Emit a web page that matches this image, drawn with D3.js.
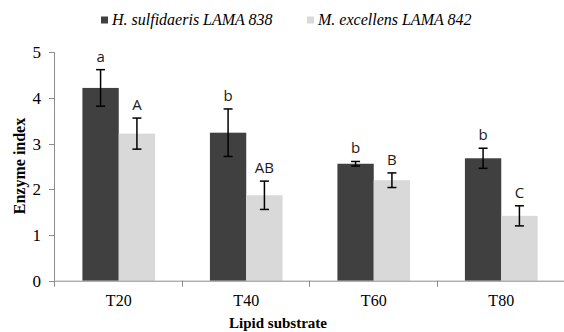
<!DOCTYPE html>
<html>
<head>
<meta charset="utf-8">
<script src="https://cdn.jsdelivr.net/npm/d3@7"></script>
<style>
  html, body { margin: 0; padding: 0; background: #fff; }
  svg { display: block; }
</style>
</head>
<body>
<svg id="chart" width="564" height="332"></svg>
<script>
const categories = ["T20", "T40", "T60", "T80"];
const seriesNames = ["H. sulfidaeris LAMA 838", "M. excellens LAMA 842"];
const hsValues = [4.22, 3.24, 2.56, 2.68];
const hsErrors = [0.40, 0.52, 0.05, 0.22];
const hsLetters = ["a", "b", "b", "b"];
const meValues = [3.22, 1.87, 2.20, 1.42];
const meErrors = [0.34, 0.31, 0.16, 0.22];
const meLetters = ["A", "AB", "B", "C"];
const yTicks = [0, 1, 2, 3, 4, 5];
const colors = ["#404040", "#d9d9d9"];

(function () {
const serif = "'Liberation Serif', 'Times New Roman', serif";
const svg = d3.select("#chart");
const mLeft = 55, mRight = 565, mTop = 52.3, mBottom = 280.7;

const x = d3.scaleBand().domain(categories).range([mLeft, mRight])
  .paddingInner(0.43).paddingOuter(0.215);
const xs = d3.scaleBand().domain(seriesNames).range([0, x.bandwidth()]);
const y = d3.scaleLinear().domain([0, 5]).range([mBottom, mTop]);

const series = [
  { name: seriesNames[0], values: hsValues, errors: hsErrors, letters: hsLetters, color: colors[0] },
  { name: seriesNames[1], values: meValues, errors: meErrors, letters: meLetters, color: colors[1] }
];

// bars
series.forEach(s => {
  const g = svg.append("g");
  g.selectAll("rect").data(categories).join("rect")
    .attr("x", c => x(c) + xs(s.name))
    .attr("width", xs.bandwidth())
    .attr("y", (c, i) => y(s.values[i]))
    .attr("height", (c, i) => y(0) - y(s.values[i]))
    .attr("fill", s.color);
});

// axes
const axisColor = "#8c8c8c";
svg.append("line").attr("x1", mLeft - 0.5).attr("x2", mLeft - 0.5)
  .attr("y1", y(5)).attr("y2", y(0)).attr("stroke", axisColor).attr("stroke-width", 1);
svg.append("line").attr("x1", mLeft - 0.5).attr("x2", mRight)
  .attr("y1", y(0) + 0.5).attr("y2", y(0) + 0.5).attr("stroke", axisColor).attr("stroke-width", 1);

// y ticks
const yg = svg.append("g");
yTicks.forEach(t => {
  yg.append("line").attr("x1", mLeft - 6).attr("x2", mLeft - 0.5)
    .attr("y1", Math.round(y(t)) + 0.5).attr("y2", Math.round(y(t)) + 0.5)
    .attr("stroke", axisColor);
  yg.append("text").attr("x", mLeft - 14).attr("y", y(t)).attr("dy", "0.35em")
    .attr("text-anchor", "end")
    .style("font-family", serif)
    .attr("font-size", 17).attr("fill", "#000").text(t);
});

// x boundary ticks
const boundaries = [mLeft].concat(categories.slice(1).map(c => x(c) - x.step() * x.paddingInner() / 2));
boundaries.forEach(b => {
  svg.append("line").attr("x1", Math.round(b) - 0.5).attr("x2", Math.round(b) - 0.5)
    .attr("y1", y(0)).attr("y2", y(0) + 6).attr("stroke", axisColor);
});

// x labels
svg.append("g").selectAll("text").data(categories).join("text")
  .attr("x", c => x(c) + x.bandwidth() / 2)
  .attr("y", 306)
  .attr("text-anchor", "middle")
  .style("font-family", serif)
  .attr("font-size", 16).attr("fill", "#000").text(c => c);

// error bars and letters
series.forEach(s => {
  const g = svg.append("g");
  categories.forEach((c, i) => {
    const cx = x(c) + xs(s.name) + xs.bandwidth() / 2;
    const hi = y(s.values[i] + s.errors[i]);
    const lo = y(s.values[i] - s.errors[i]);
    g.append("line").attr("x1", cx).attr("x2", cx).attr("y1", hi).attr("y2", lo)
      .attr("stroke", "#000").attr("stroke-width", 1.5);
    [hi, lo].forEach(yy => {
      g.append("line").attr("x1", cx - 4.5).attr("x2", cx + 4.5).attr("y1", yy).attr("y2", yy)
        .attr("stroke", "#000").attr("stroke-width", 1.5);
    });
    g.append("text").attr("x", cx).attr("y", hi - 8)
      .attr("text-anchor", "middle")
      .style("font-family", "'Open Sans', sans-serif")
      .attr("font-size", 15).attr("fill", "#1a1a1a").text(s.letters[i]);
  });
});

// axis titles
svg.append("text")
  .attr("transform", `translate(25, ${(y(0) + y(5)) / 2 - 0.5}) rotate(-90)`)
  .attr("text-anchor", "middle")
  .style("font-family", serif)
  .attr("font-weight", "bold").attr("font-size", 16).attr("fill", "#000")
  .text("Enzyme index");
svg.append("text").attr("x", 278).attr("y", 328)
  .attr("text-anchor", "middle")
  .style("font-family", serif)
  .attr("font-weight", "bold").attr("font-size", 15).attr("fill", "#000")
  .text("Lipid substrate");

// legend
const legendX = [101, 307];
series.forEach((s, i) => {
  const g = svg.append("g").attr("transform", `translate(${legendX[i]}, 0)`);
  g.append("rect").attr("x", 0).attr("y", 16.5).attr("width", 7).attr("height", 7).attr("fill", s.color);
  g.append("text").attr("x", 11).attr("y", 25)
    .style("font-family", serif)
    .attr("font-style", "italic").attr("font-size", 16).attr("fill", "#000")
    .text(s.name);
});
})();
</script>
</body>
</html>
